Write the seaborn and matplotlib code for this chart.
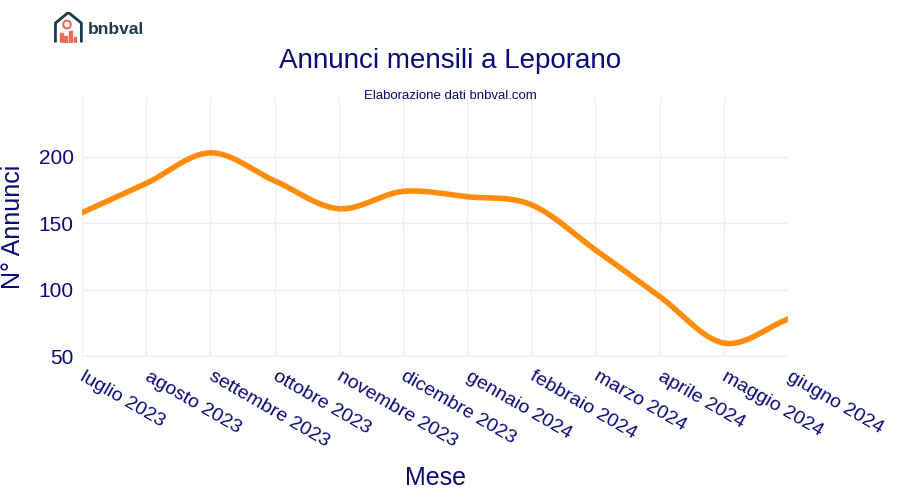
import numpy as np
import pandas as pd
import matplotlib
matplotlib.use("Agg")
import matplotlib.pyplot as plt
import matplotlib.transforms as mtrans
import seaborn as sns
from matplotlib.patches import Polygon, Rectangle, Circle

months = ["luglio 2023", "agosto 2023", "settembre 2023", "ottobre 2023",
          "novembre 2023", "dicembre 2023", "gennaio 2024", "febbraio 2024",
          "marzo 2024", "aprile 2024", "maggio 2024", "giugno 2024"]
annunci = [158, 180, 203, 182, 161, 174, 170, 164, 130, 95, 60, 78]
yticks = [50, 100, 150, 200]

sns.set_theme(style="white")
plt.rcParams['font.family'] = ['Liberation Sans', 'DejaVu Sans']
navy = "#0a0a78"

# smooth rendering (Catmull-Rom) of the data line
def catmull(xs, ys, n=30, t=0.5):
    xs = np.asarray(xs, float); ys = np.asarray(ys, float)
    px = np.concatenate([[2*xs[0]-xs[1]], xs, [2*xs[-1]-xs[-2]]])
    py = np.concatenate([[2*ys[0]-ys[1]], ys, [2*ys[-1]-ys[-2]]])
    ox, oy = [], []
    for i in range(1, len(px)-2):
        s = np.linspace(0, 1, n, endpoint=False)
        for P, out in ((px, ox), (py, oy)):
            p0, p1, p2, p3 = P[i-1], P[i], P[i+1], P[i+2]
            m1 = t*(p2-p0); m2 = t*(p3-p1)
            h00 = 2*s**3-3*s**2+1; h10 = s**3-2*s**2+s
            h01 = -2*s**3+3*s**2; h11 = s**3-s**2
            out.extend(h00*p1+h10*m1+h01*p2+h11*m2)
    ox.append(xs[-1]); oy.append(ys[-1])
    return np.array(ox), np.array(oy)

xpos = np.arange(len(months))
sx, sy = catmull(xpos, annunci)
df = pd.DataFrame({"x": sx, "y": sy})

fig = plt.figure(figsize=(9, 5), dpi=100)
ax = fig.add_axes([0.0911, 0.286, 0.7845, 0.52])
sns.lineplot(data=df, x="x", y="y", ax=ax, color="#ff8c0a", linewidth=4, sort=False)

ax.set_xlim(0, len(months)-1)
ax.set_ylim(49.5, 245)
ax.set_yticks(yticks)
ax.set_xticks(xpos)
ax.set_xticklabels(months, rotation=-30, ha="left", va="top", rotation_mode="anchor")
ax.tick_params(axis="x", labelsize=14, colors=navy, pad=8, length=0)
ax.tick_params(axis="y", labelsize=15, colors=navy, pad=6, length=0)
off = mtrans.ScaledTranslation(4/100, 0, fig.dpi_scale_trans)
for lbl in ax.get_xticklabels():
    lbl.set_transform(lbl.get_transform() + off)
ax.grid(True, color="#ebeef5", linewidth=1)
for s in ax.spines.values():
    s.set_visible(False)
ax.set_xlabel("Mese", fontsize=18, color=navy)
ax.set_ylabel("N° Annunci", fontsize=18, color=navy, labelpad=10)
ax.xaxis.set_label_coords(0.5, -0.42)

fig.text(0.5, 0.878, "Annunci mensili a Leporano", ha="center", va="center",
         fontsize=20, color=navy)
fig.text(0.5, 0.808, "Elaborazione dati bnbval.com", ha="center", va="center",
         fontsize=9.5, color=navy)

# logo
lax = fig.add_axes([0.06, 0.915, 0.032, 0.06])
lax.set_xlim(0, 10); lax.set_ylim(0, 10); lax.axis("off")
lax.add_patch(Polygon([[0.5, 0], [0.5, 6.5], [5, 10], [9.5, 6.5], [9.5, 0]],
                      closed=False, fill=False, edgecolor="#1f3a4d", linewidth=2))
for i, h in enumerate([3, 2, 3.5, 1.5]):
    lax.add_patch(Rectangle((2 + i*1.6, 0.3), 1.0, h, color="#f06a55"))
lax.add_patch(Circle((4.5, 6.0), 1.3, fill=False, edgecolor="#f06a55", linewidth=1.5))
fig.text(0.098, 0.942, "bnbval", ha="left", va="center", fontsize=12.5,
         color="#1f3a4d", fontweight="bold")

fig.savefig("out.png", dpi=100, facecolor="white")
